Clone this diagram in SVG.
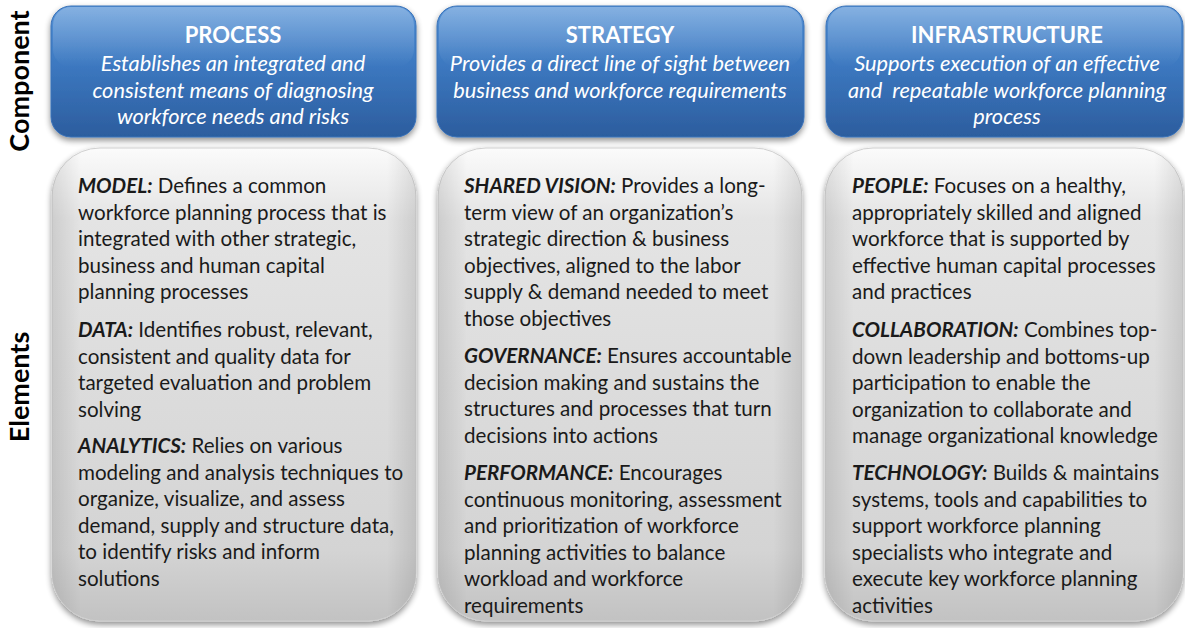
<svg xmlns="http://www.w3.org/2000/svg" width="1185" height="628" viewBox="0 0 1185 628">
<defs>
<linearGradient id="blueG" x1="0" y1="0" x2="0" y2="1">
<stop offset="0" stop-color="#5592d6"/>
<stop offset="0.45" stop-color="#3c78c0"/>
<stop offset="1" stop-color="#2c5d9e"/>
</linearGradient>
<linearGradient id="gloss" x1="0" y1="0" x2="0" y2="1">
<stop offset="0" stop-color="#ffffff" stop-opacity="0.28"/>
<stop offset="1" stop-color="#ffffff" stop-opacity="0"/>
</linearGradient>
<linearGradient id="grayG" x1="0" y1="0" x2="0" y2="1">
<stop offset="0" stop-color="#fbfbfb"/>
<stop offset="0.15" stop-color="#e4e4e4"/>
<stop offset="0.85" stop-color="#d4d4d4"/>
<stop offset="1" stop-color="#c2c2c2"/>
</linearGradient>
<linearGradient id="sideG" x1="0" y1="0" x2="1" y2="0">
<stop offset="0" stop-color="#000" stop-opacity="0.10"/>
<stop offset="0.08" stop-color="#000" stop-opacity="0"/>
<stop offset="0.92" stop-color="#000" stop-opacity="0"/>
<stop offset="1" stop-color="#000" stop-opacity="0.10"/>
</linearGradient>
<filter id="shadow" x="-10%" y="-10%" width="120%" height="125%">
<feGaussianBlur in="SourceAlpha" stdDeviation="3"/>
<feOffset dx="0" dy="3" result="b"/>
<feComponentTransfer><feFuncA type="linear" slope="0.45"/></feComponentTransfer>
<feMerge><feMergeNode/><feMergeNode in="SourceGraphic"/></feMerge>
</filter>
</defs>
<style>
.hdr{fill:url(#blueG);stroke:#3a72b8;stroke-width:1}
.gl{fill:url(#gloss)}
.body{fill:url(#grayG);stroke:#d0d0d0;stroke-width:1}
.side{fill:url(#sideG)}
.ht{font-family:Lato,"Liberation Sans",sans-serif;font-weight:bold;font-size:22px;fill:#ffffff;text-anchor:middle}
.hi{font-family:Lato,"Liberation Sans",sans-serif;font-style:italic;font-size:21.8px;fill:#ffffff;text-anchor:middle}
.bt{font-family:Lato,"Liberation Sans",sans-serif;font-size:20.6px;fill:#1a1a1a}
.lb{font-weight:bold;font-style:italic}
.side-lbl{font-family:Lato,"Liberation Sans",sans-serif;font-weight:bold;font-size:27px;fill:#000;text-anchor:middle}
</style>
<rect width="1185" height="628" fill="#ffffff"/>
<g id="labels">
<text class="side-lbl" transform="translate(29,81) rotate(-90)">Component</text>
<text class="side-lbl" transform="translate(29,387) rotate(-90)">Elements</text>
</g>
<g id="process-header">
<rect class="hdr" x="51" y="6" width="365" height="131" rx="20" filter="url(#shadow)"/>
<rect class="gl" x="53" y="7" width="361" height="60" rx="18"/>
<text class="ht" x="233" y="43">PROCESS</text>
<text class="hi" x="233" y="71">Establishes an integrated and</text>
<text class="hi" x="233" y="98">consistent means of diagnosing</text>
<text class="hi" x="233" y="124">workforce needs and risks</text>
</g>
<g id="strategy-header">
<rect class="hdr" x="437" y="6" width="367" height="131" rx="20" filter="url(#shadow)"/>
<rect class="gl" x="439" y="7" width="363" height="60" rx="18"/>
<text class="ht" x="620" y="43">STRATEGY</text>
<text class="hi" x="620" y="71">Provides a direct line of sight between</text>
<text class="hi" x="620" y="98">business and workforce requirements</text>
</g>
<g id="infrastructure-header">
<rect class="hdr" x="826" y="6" width="357" height="131" rx="20" filter="url(#shadow)"/>
<rect class="gl" x="828" y="7" width="353" height="60" rx="18"/>
<text class="ht" x="1007" y="43">INFRASTRUCTURE</text>
<text class="hi" x="1007" y="71">Supports execution of an effective</text>
<text class="hi" x="1007" y="98" xml:space="preserve">and  repeatable workforce planning</text>
<text class="hi" x="1007" y="124">process</text>
</g>
<g id="process-elements">
<rect class="body" x="52" y="148" width="364" height="473" rx="48" filter="url(#shadow)"/>
<rect class="side" x="52" y="148" width="364" height="473" rx="48"/>
<text class="bt" x="78" y="193"><tspan class="lb">MODEL:</tspan> Defines a common</text>
<text class="bt" x="78" y="219.5">workforce planning process that is</text>
<text class="bt" x="78" y="246">integrated with other strategic,</text>
<text class="bt" x="78" y="272.5">business and human capital</text>
<text class="bt" x="78" y="299">planning processes</text>
<text class="bt" x="78" y="337"><tspan class="lb">DATA:</tspan> Identifies robust, relevant,</text>
<text class="bt" x="78" y="363.5">consistent and quality data for</text>
<text class="bt" x="78" y="390">targeted evaluation and problem</text>
<text class="bt" x="78" y="416.5">solving</text>
<text class="bt" x="78" y="453"><tspan class="lb">ANALYTICS:</tspan> Relies on various</text>
<text class="bt" x="78" y="479.5">modeling and analysis techniques to</text>
<text class="bt" x="78" y="506">organize, visualize, and assess</text>
<text class="bt" x="78" y="532.5">demand, supply and structure data,</text>
<text class="bt" x="78" y="559">to identify risks and inform</text>
<text class="bt" x="78" y="585.5">solutions</text>
</g>
<g id="strategy-elements">
<rect class="body" x="438" y="148" width="364" height="473" rx="48" filter="url(#shadow)"/>
<rect class="side" x="438" y="148" width="364" height="473" rx="48"/>
<text class="bt" x="464" y="193"><tspan class="lb">SHARED VISION:</tspan> Provides a long-</text>
<text class="bt" x="464" y="219.5">term view of an organization’s</text>
<text class="bt" x="464" y="246">strategic direction &amp; business</text>
<text class="bt" x="464" y="272.5">objectives, aligned to the labor</text>
<text class="bt" x="464" y="299">supply &amp; demand needed to meet</text>
<text class="bt" x="464" y="325.5">those objectives</text>
<text class="bt" x="464" y="363"><tspan class="lb">GOVERNANCE:</tspan> Ensures accountable</text>
<text class="bt" x="464" y="389.5">decision making and sustains the</text>
<text class="bt" x="464" y="416">structures and processes that turn</text>
<text class="bt" x="464" y="442.5">decisions into actions</text>
<text class="bt" x="464" y="480"><tspan class="lb">PERFORMANCE:</tspan> Encourages</text>
<text class="bt" x="464" y="506.5">continuous monitoring, assessment</text>
<text class="bt" x="464" y="533">and prioritization of workforce</text>
<text class="bt" x="464" y="559.5">planning activities to balance</text>
<text class="bt" x="464" y="586">workload and workforce</text>
<text class="bt" x="464" y="612.5">requirements</text>
</g>
<g id="infrastructure-elements">
<rect class="body" x="825" y="148" width="358" height="473" rx="48" filter="url(#shadow)"/>
<rect class="side" x="825" y="148" width="358" height="473" rx="48"/>
<text class="bt" x="852" y="193"><tspan class="lb">PEOPLE:</tspan> Focuses on a healthy,</text>
<text class="bt" x="852" y="219.5">appropriately skilled and aligned</text>
<text class="bt" x="852" y="246">workforce that is supported by</text>
<text class="bt" x="852" y="272.5">effective human capital processes</text>
<text class="bt" x="852" y="299">and practices</text>
<text class="bt" x="852" y="337"><tspan class="lb">COLLABORATION:</tspan> Combines top-</text>
<text class="bt" x="852" y="363.5">down leadership and bottoms-up</text>
<text class="bt" x="852" y="390">participation to enable the</text>
<text class="bt" x="852" y="416.5">organization to collaborate and</text>
<text class="bt" x="852" y="443">manage organizational knowledge</text>
<text class="bt" x="852" y="480"><tspan class="lb">TECHNOLOGY:</tspan> Builds &amp; maintains</text>
<text class="bt" x="852" y="506.5">systems, tools and capabilities to</text>
<text class="bt" x="852" y="533">support workforce planning</text>
<text class="bt" x="852" y="559.5">specialists who integrate and</text>
<text class="bt" x="852" y="586">execute key workforce planning</text>
<text class="bt" x="852" y="612.5">activities</text>
</g>
</svg>
